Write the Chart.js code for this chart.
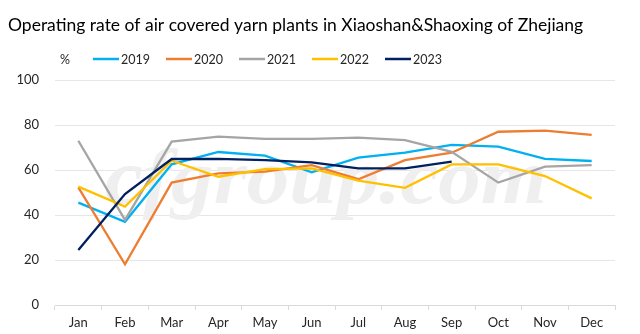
<!DOCTYPE html>
<html lang="en">
<head>
<meta charset="UTF-8">
<title>Operating rate of air covered yarn plants</title>
<script src="https://cdn.jsdelivr.net/npm/chart.js"></script>
<style>
    html, body { margin: 0; padding: 0; background: #fff; }
    #wrap { width: 640px; height: 334px; position: relative; }
</style>
</head>
<body>
<div id="wrap"><canvas id="rateChart"></canvas></div>
<script>
    const months = ['Jan', 'Feb', 'Mar', 'Apr', 'May', 'Jun', 'Jul', 'Aug', 'Sep', 'Oct', 'Nov', 'Dec'];
    const years = ['2019', '2020', '2021', '2022', '2023'];
    const rate2019 = [45.5, 37, 62.5, 68, 66.4, 59, 65.5, 67.7, 71.2, 70.4, 64.9, 64];
    const rate2020 = [52.3, 18.1, 54.4, 58.5, 59.3, 62.2, 55.9, 64.4, 67.7, 77, 77.5, 75.6];
    const rate2021 = [73, 37.8, 72.6, 74.8, 73.8, 73.8, 74.4, 73.3, 68.1, 54.4, 61.5, 62.2];
    const rate2022 = [52.6, 43.7, 64.1, 57, 60.4, 60.7, 55.3, 52.1, 62.5, 62.5, 57.3, 47.4];
    const rate2023 = [24.4, 49.3, 64.9, 64.9, 64.4, 63.4, 60.7, 60.7, 63.7];
    const yTicks = [0, 20, 40, 60, 80, 100];
    const colors = ['#00B0F0', '#ED7D31', '#A5A5A5', '#FFC000', '#002060'];

    const series = [rate2019, rate2020, rate2021, rate2022, rate2023];
    const FONT = 'Lato';

    // title, unit label, legend and the faint site mark
    const decor = {
        id: 'decor',
        beforeDatasetsDraw(chart) {
            const ctx = chart.ctx;
            ctx.save();
            ctx.font = 'italic bold 78px "Liberation Serif"';
            const txt = 'cfgroup.com';
            const w = ctx.measureText(txt).width;
            ctx.translate(105, 203);
            ctx.scale(442 / w, 1);
            ctx.fillStyle = '#efefef';
            ctx.textBaseline = 'alphabetic';
            ctx.fillText(txt, 0, 0);
            ctx.restore();
        },
        afterDraw(chart) {
            const ctx = chart.ctx;
            ctx.save();
            ctx.fillStyle = '#000';
            ctx.textBaseline = 'alphabetic';
            ctx.font = '17.5px ' + FONT;
            ctx.fillText('Operating rate of air covered yarn plants in Xiaoshan&Shaoxing of Zhejiang', 8, 31);

            ctx.font = '12.5px ' + FONT;
            ctx.fillStyle = '#262626';
            ctx.fillText('%', 60, 64);
            chart.data.datasets.forEach((ds, i) => {
                const x = 93 + i * 73;
                ctx.strokeStyle = ds.borderColor;
                ctx.lineWidth = 2.5;
                ctx.beginPath();
                ctx.moveTo(x, 59);
                ctx.lineTo(x + 26, 59);
                ctx.stroke();
                ctx.fillText(ds.label, x + 28, 64);
            });
            ctx.restore();
        }
    };

    const ctx = document.getElementById('rateChart').getContext('2d');
    new Chart(ctx, {
        type: 'line',
        data: {
            labels: months,
            datasets: years.map((y, i) => ({
                label: y,
                data: series[i],
                borderColor: colors[i],
                backgroundColor: colors[i],
                borderWidth: 2.3,
                pointRadius: 0,
                tension: 0,
                fill: false,
                order: years.length - i
            }))
        },
        options: {
            responsive: true,
            maintainAspectRatio: false,
            animation: false,
            layout: { padding: { left: 8, right: 25, top: 80, bottom: 0 } },
            plugins: {
                legend: { display: false },
                title: { display: false },
                tooltip: { enabled: false }
            },
            scales: {
                x: {
                    offset: true,
                    grid: {
                        offset: true,
                        drawOnChartArea: false,
                        tickLength: 5,
                        color: '#d9d9d9'
                    },
                    border: { color: '#d9d9d9' },
                    ticks: {
                        padding: 5,
                        color: '#262626',
                        font: { family: FONT, size: 13 },
                        maxRotation: 0
                    },
                    afterFit(axis) { axis.height = 29; }
                },
                y: {
                    min: 0,
                    max: 100,
                    afterBuildTicks(axis) { axis.ticks = yTicks.map(v => ({ value: v })); },
                    grid: { color: '#e6e6e6', drawTicks: false },
                    border: { display: false },
                    ticks: {
                        padding: 16,
                        color: '#262626',
                        font: { family: FONT, size: 13 }
                    },
                    afterFit(axis) { axis.width = 47; }
                }
            }
        },
        plugins: [decor]
    });
</script>
</body>
</html>
